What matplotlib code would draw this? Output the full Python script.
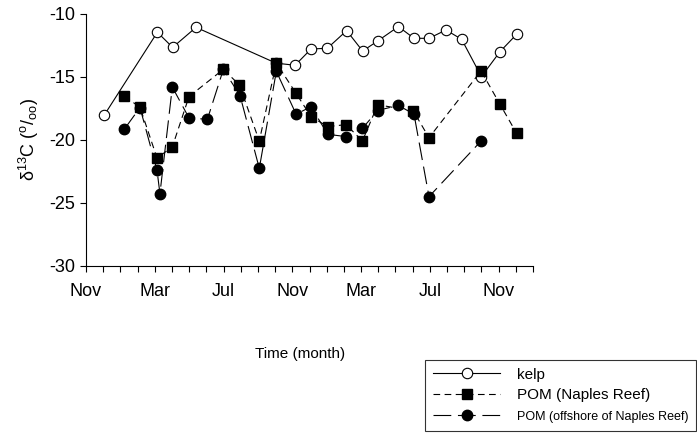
import numpy as np
import matplotlib.pyplot as plt

plt.rcParams['font.family'] = ['Liberation Sans', 'DejaVu Sans']
plt.rcParams['axes.unicode_minus'] = False
plt.rcParams['mathtext.fontset'] = 'custom'
plt.rcParams['mathtext.rm'] = 'Liberation Sans'
plt.rcParams['mathtext.it'] = 'Liberation Sans'

# months counted from the first November
kelp_t = [1.05, 4.15, 5.04, 6.4, 11.05, 12.16, 13.09, 14.04, 15.16, 16.09, 16.97,
          18.17, 19.08, 19.95, 20.94, 21.85, 23.0, 24.08, 25.05]
kelp_v = [-18.05, -11.45, -12.65, -11.06, -13.9, -14.07, -12.78, -12.72, -11.32, -12.94, -12.14,
          -11.0, -11.93, -11.93, -11.27, -12.01, -14.97, -12.99, -11.61]

pom_t = [2.23, 3.14, 4.13, 5.02, 5.99, 7.99, 8.92, 10.08, 11.07, 12.22, 13.09, 14.06,
         15.12, 16.08, 16.97, 19.04, 19.95, 22.98, 24.08, 25.05]
pom_v = [-16.53, -17.4, -21.43, -20.55, -16.56, -14.39, -15.63, -20.08, -13.9, -16.3, -18.15, -18.94,
         -18.78, -20.07, -17.2, -17.7, -19.82, -14.52, -17.17, -19.47]

off_t = [2.23, 3.14, 4.13, 4.3, 5.02, 5.99, 7.06, 7.99, 8.96, 10.08, 11.07, 12.22, 13.09,
         14.06, 15.12, 16.08, 16.97, 18.17, 19.08, 19.95, 22.98]
off_v = [-19.14, -17.43, -22.4, -24.26, -15.8, -18.25, -18.36, -14.39, -16.48, -22.25, -14.55, -17.95, -17.36,
         -19.55, -19.73, -19.07, -17.66, -17.25, -17.96, -24.5, -20.08]

tick_pos = [0, 4, 8, 12, 16, 20, 24]
tick_lab = ['Nov', 'Mar', 'Jul', 'Nov', 'Mar', 'Jul', 'Nov']

fig = plt.figure(figsize=(6.97, 4.40), dpi=100)
ax = fig.add_axes([0.1234, 0.3955, 0.6413, 0.5727])

l1, = ax.plot(kelp_t, kelp_v, color='k', lw=0.8, marker='o', ms=7.5,
              mfc='white', mec='k', mew=0.8, label='kelp')
l2, = ax.plot(pom_t, pom_v, color='k', lw=0.8, ls=(0, (6, 4)), marker='s', ms=6.5,
              mfc='k', mec='k', label='POM (Naples Reef)')
l3, = ax.plot(off_t, off_v, color='k', lw=0.8, ls=(0, (16, 6)), marker='o', ms=7.5,
              mfc='k', mec='k', label='POM (offshore of Naples Reef)')

ax.set_xlim(0, 26)
ax.set_ylim(-30, -10)
ax.set_xticks(np.arange(0, 27, 1), minor=True)
ax.set_xticks(tick_pos)
ax.set_xticklabels(tick_lab)
ax.set_yticks([-30, -25, -20, -15, -10])
ax.tick_params(axis='both', which='both', direction='out', length=4, width=0.8, labelsize=13)
ax.tick_params(axis='x', pad=8)
ax.spines['top'].set_visible(False)
ax.spines['right'].set_visible(False)
ax.spines['left'].set_linewidth(0.8)
ax.spines['bottom'].set_linewidth(0.8)

ax.set_ylabel('\u03b4' + r'$^{\mathrm{13}}$C ($^{\mathrm{o}}$/$_{\mathrm{oo}}$)', fontsize=13, labelpad=6)
fig.text(0.43, 0.195, 'Time (month)', ha='center', va='center', fontsize=11)

leg = fig.legend(handles=[l1, l2, l3], loc='upper right', bbox_to_anchor=(0.999, 0.182),
                 frameon=True, fancybox=False, edgecolor='k', fontsize=11,
                 handlelength=4.4, handletextpad=1.1, borderpad=0.5,
                 labelspacing=0.45, borderaxespad=0)
leg.get_frame().set_linewidth(0.8)
leg.get_texts()[2].set_fontsize(9)

plt.savefig('out.png', dpi=100)
